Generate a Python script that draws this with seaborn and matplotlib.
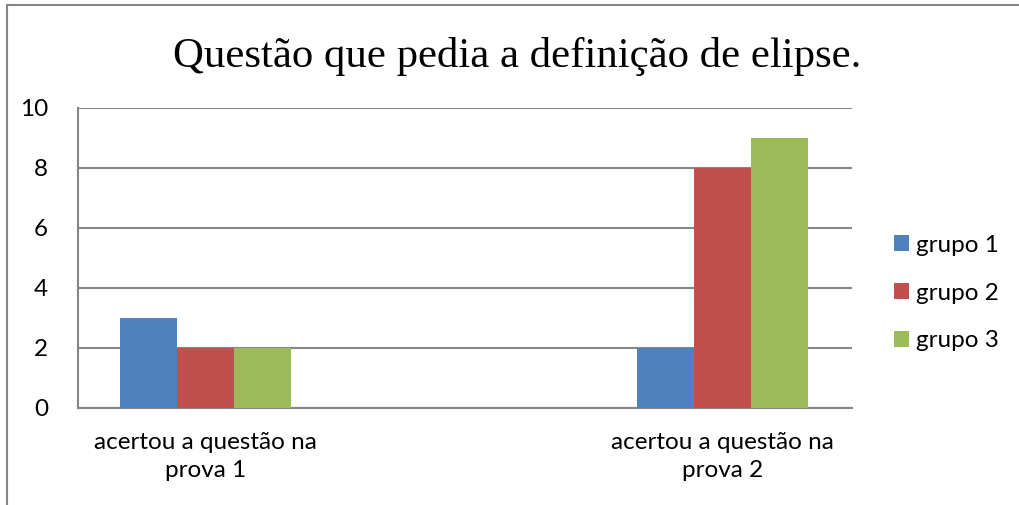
import matplotlib
matplotlib.use("Agg")
import matplotlib.pyplot as plt
from matplotlib.lines import Line2D
import seaborn as sns
import pandas as pd

categories = ["acertou a questão na\nprova 1", "acertou a questão na\nprova 2"]
groups = ["grupo 1", "grupo 2", "grupo 3"]
grupo1 = [3, 2]
grupo2 = [2, 8]
grupo3 = [2, 9]
colors = ["#4F81BD", "#C0504D", "#9BBB59"]
title = "Questão que pedia a definição de elipse."

rows = []
for g, vals in zip(groups, [grupo1, grupo2, grupo3]):
    for c, v in zip(categories, vals):
        rows.append({"categoria": c, "grupo": g, "valor": v})
df = pd.DataFrame(rows)

sns.set_style("white")
plt.rcParams["font.family"] = ["Lato", "DejaVu Sans"]
plt.rcParams["text.color"] = "black"

W, H = 1019, 505
fig = plt.figure(figsize=(W / 100, H / 100), dpi=100)
ax = fig.add_axes([78 / W, 1 - 408 / H, (852 - 78) / W, (408 - 108) / H])

sns.barplot(data=df, x="categoria", y="valor", hue="grupo", palette=colors,
            width=0.33, saturation=1, edgecolor="none", linewidth=0, ax=ax,
            zorder=3)

ax.set_xlim(-0.246, 1.25)
ax.set_ylim(0, 10)
ax.set_yticks(range(0, 11, 2))
ax.grid(axis="y", color="#868686", linewidth=1.5, zorder=0)
ax.set_axisbelow(True)
ax.set_xlabel("")
ax.set_ylabel("")
for s in ["top", "right"]:
    ax.spines[s].set_visible(False)
for s in ["left", "bottom"]:
    ax.spines[s].set_color("#868686")
    ax.spines[s].set_linewidth(1.5)
ax.tick_params(axis="y", length=0, pad=21.5, labelsize=17.5, colors="black")
ax.tick_params(axis="x", length=0, pad=17, labelsize=17.5, colors="black")
for lbl in ax.get_xticklabels():
    lbl.set_linespacing(1.42)

leg = ax.legend(loc="center left", bbox_to_anchor=(872 / W, 1 - 293 / H),
                bbox_transform=fig.transFigure, frameon=False, fontsize=17.5,
                handlelength=0.62, handleheight=0.62, handletextpad=0.3,
                labelspacing=1.1)
for t in leg.get_texts():
    t.set_color("black")

fig.text(517 / W, 1 - 56 / H, title, ha="center", va="center", color="black",
         fontsize=30.8, family=["Liberation Serif", "DejaVu Serif"])

# outer chart frame (left and top edges)
fig.add_artist(Line2D([7 / W, 7 / W], [0, 1 - 5 / H], transform=fig.transFigure,
                      color="#868686", linewidth=1.5))
fig.add_artist(Line2D([7 / W, 1], [1 - 5 / H, 1 - 5 / H], transform=fig.transFigure,
                      color="#868686", linewidth=1.5))

fig.savefig("out.png", dpi=100)
